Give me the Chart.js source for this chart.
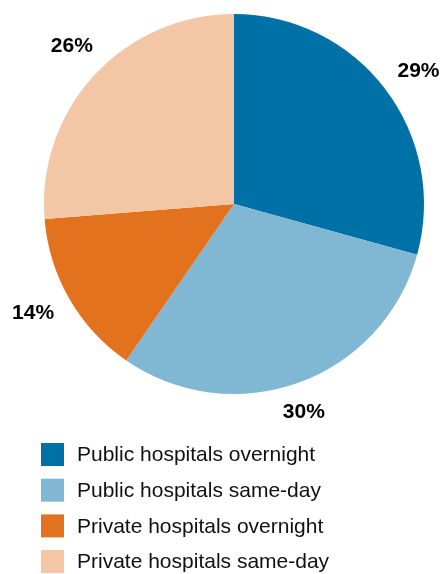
<!DOCTYPE html>
<html>
<head>
<meta charset="utf-8">
<script src="https://cdn.jsdelivr.net/npm/chart.js@4/dist/chart.umd.min.js"></script>
<style>
  html, body { margin: 0; padding: 0; background: #fff; }
  #wrap { width: 444px; height: 574px; position: relative; }
</style>
</head>
<body>
<div id="wrap"><canvas id="c"></canvas></div>
<script>
// Share of hospitalisations by sector and stay type (%)
const categories = [
  'Public hospitals overnight',
  'Public hospitals same-day',
  'Private hospitals overnight',
  'Private hospitals same-day'
];
const shares = [29, 30, 14, 26];
const sliceColors = ['#0071a6', '#80b7d3', '#e3721f', '#f3c7a5'];

const FONT = '"Liberation Sans", Arial, sans-serif';

// Percentage labels placed just outside each slice
const sliceLabels = {
  id: 'sliceLabels',
  afterDatasetsDraw(chart) {
    const ctx = chart.ctx;
    const meta = chart.getDatasetMeta(0);
    const values = chart.data.datasets[0].data;
    ctx.save();
    ctx.font = 'bold 21px ' + FONT;
    ctx.fillStyle = '#000';
    ctx.textAlign = 'center';
    ctx.textBaseline = 'middle';
    meta.data.forEach((arc, i) => {
      const p = arc.getProps(['x', 'y', 'startAngle', 'endAngle', 'outerRadius'], true);
      const mid = (p.startAngle + p.endAngle) / 2 + 0.025;
      const text = values[i] + '%';
      const w = ctx.measureText(text).width;
      const dist = p.outerRadius + 24 + 0.4 * w * Math.abs(Math.cos(mid));
      ctx.fillText(text, p.x + Math.cos(mid) * dist, p.y + Math.sin(mid) * dist);
    });
    ctx.restore();
  }
};

// Vertical legend below the pie, one entry per row
const stackedLegend = {
  id: 'stackedLegend',
  afterDraw(chart) {
    const ctx = chart.ctx;
    const labels = chart.data.labels;
    const colors = chart.data.datasets[0].backgroundColor;
    const left = 41, top = 443, box = 23, step = 35.7, gap = 13;
    ctx.save();
    ctx.font = '21px ' + FONT;
    ctx.textAlign = 'left';
    ctx.textBaseline = 'middle';
    labels.forEach((label, i) => {
      const y = top + i * step;
      ctx.fillStyle = colors[i];
      ctx.fillRect(left, y, box, box);
      ctx.fillStyle = '#111';
      ctx.fillText(label, left + box + gap, y + box / 2 + 1);
    });
    ctx.restore();
  }
};

new Chart(document.getElementById('c'), {
  type: 'pie',
  data: {
    labels: categories,
    datasets: [{
      data: shares,
      backgroundColor: sliceColors,
      borderWidth: 0,
      hoverOffset: 0
    }]
  },
  options: {
    responsive: true,
    maintainAspectRatio: false,
    animation: false,
    layout: { padding: { left: 44, right: 20, top: 14, bottom: 180 } },
    plugins: {
      legend: { display: false },
      tooltip: { enabled: false }
    }
  },
  plugins: [sliceLabels, stackedLegend]
});
</script>
</body>
</html>
